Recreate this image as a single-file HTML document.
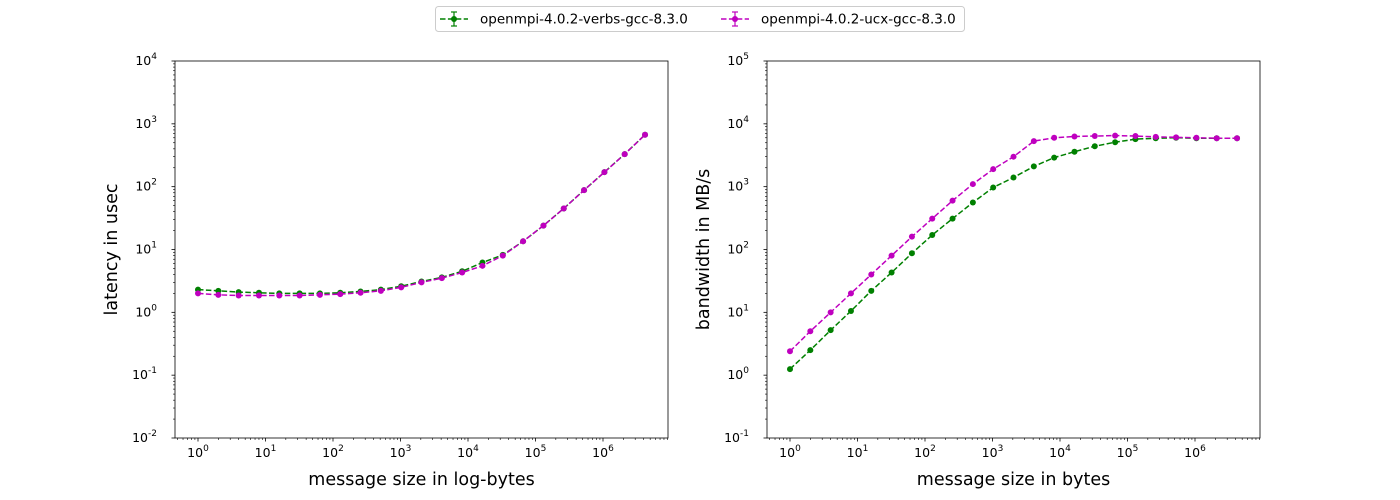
<!DOCTYPE html>
<html><head><meta charset="utf-8"><style>
body{margin:0;background:#fff;}
svg{display:block;font-family:"DejaVu Sans","Liberation Sans",sans-serif;}
</style></head><body>
<svg id="chart" width="1400" height="500" xmlns="http://www.w3.org/2000/svg"></svg>
<script>
const sizes = [1,2,4,8,16,32,64,128,256,512,1024,2048,4096,8192,16384,32768,65536,131072,262144,524288,1048576,2097152,4194304];
const latVerbs = [2.3,2.2,2.1,2.05,2.0,2.0,2.0,2.05,2.15,2.3,2.6,3.1,3.6,4.5,6.2,8.2,13.5,24,45,88,170,330,670];
const latUcx = [2.0,1.9,1.85,1.85,1.85,1.85,1.9,1.95,2.05,2.2,2.5,3.0,3.5,4.3,5.5,8,13.5,24,45,88,170,330,670];
const bwVerbs = [1.25,2.5,5.2,10.5,22,43,87,170,310,560,970,1400,2100,2900,3600,4400,5100,5700,5900,6000,5900,5900,5900];
const bwUcx = [2.4,5,10,20,40,80,160,310,600,1100,1900,3000,5300,6000,6300,6400,6500,6400,6200,6100,6000,5900,5900];
const legendLabels = ["openmpi-4.0.2-verbs-gcc-8.3.0","openmpi-4.0.2-ucx-gcc-8.3.0"];
const NS="http://www.w3.org/2000/svg";
const svg=document.getElementById('chart');
function mk(t,a,p){const e=document.createElementNS(NS,t);for(const k in a)e.setAttribute(k,a[k]);(p||svg).appendChild(e);return e;}
function panel(name,L,R,T,B,ymin,ymax,ylabel,xlabel,s1,s2){
  const g=mk('g',{});
  
  
  const x=v=>198+(L-175)+Math.log10(v)*67.5;
  const y=v=>B-(Math.log10(v)-ymin)/(ymax-ymin)*(B-T);
  for(let d=0;d<=6;d++){
    const px=x(Math.pow(10,d));
    mk('line',{x1:px,x2:px,y1:B,y2:B+3.5,stroke:'#000','stroke-width':0.8},g);
    const t=mk('text',{x:px,y:B+19,'text-anchor':'middle','font-size':12.5},g);
    
    t.innerHTML='10<tspan dy="-6" font-size="9">'+d+'</tspan>';
    for(let m=2;m<10;m++){
      const v=m*Math.pow(10,d-1); if(d===0)continue;
      const mx=x(v); mk('line',{x1:mx,x2:mx,y1:B,y2:B+2,stroke:'#000','stroke-width':0.6},g);
    }
  }
  for(let m=2;m<10;m++){const mx=x(m*1e6);if(mx<R)mk('line',{x1:mx,x2:mx,y1:B,y2:B+2,stroke:'#000','stroke-width':0.6},g);}
  for(let m=2;m<10;m++){const mx=x(m*0.1);if(mx>L)mk('line',{x1:mx,x2:mx,y1:B,y2:B+2,stroke:'#000','stroke-width':0.6},g);}
  for(let d=ymin;d<=ymax;d++){
    const py=y(Math.pow(10,d));
    mk('line',{x1:L-3.5,x2:L,y1:py,y2:py,stroke:'#000','stroke-width':0.8},g);
    const t=mk('text',{x:L-18,y:py+4,'text-anchor':'end','font-size':12.5},g);
    
    t.innerHTML='10<tspan dy="-6" font-size="9">'+d+'</tspan>';
    if(d<ymax)for(let m=2;m<10;m++){const my=y(m*Math.pow(10,d));mk('line',{x1:L-2,x2:L,y1:my,y2:my,stroke:'#000','stroke-width':0.6},g);}
  }
  const series=[[s1,'#008000'],[s2,'#bf00bf']];
  series.forEach(([vals,c],i)=>{
    const pts=sizes.map((s,j)=>x(s)+','+y(vals[j])).join(' ');
    const pl=mk('polyline',{points:pts,fill:'none',stroke:c,'stroke-width':1.5,'stroke-dasharray':'5.5,2.4'},g);
    
    sizes.forEach((s,j)=>{const cc=mk('circle',{cx:x(s),cy:y(vals[j]),r:3,fill:c},g);
      });
  });
  mk('rect',{x:L,y:T,width:R-L,height:B-T,fill:'none',stroke:'#000','stroke-width':0.8},g);
  const xl=mk('text',{x:(L+R)/2,y:485,'text-anchor':'middle','font-size':17.5},g);xl.textContent=xlabel;
  
  const yl=mk('text',{x:0,y:0,'text-anchor':'middle','font-size':17.5,transform:`translate(${L-58},${(T+B)/2}) rotate(-90)`},g);yl.textContent=ylabel;
  
}
panel('latency-panel',175,668,61,438,-2,4,'latency in usec','message size in log-bytes',latVerbs,latUcx);
panel('bandwidth-panel',767,1260,61,438,-1,5,'bandwidth in MB/s','message size in bytes',bwVerbs,bwUcx);
const lg=mk('g',{});


mk('rect',{x:435.5,y:6.5,width:529,height:25,rx:3,fill:'#fff',stroke:'#ccc'},lg);
[[440,'#008000'],[721,'#bf00bf']].forEach(([lx,c],i)=>{
  const e=mk('g',{},lg);
  
  
  mk('line',{x1:lx,x2:lx+28,y1:19,y2:19,stroke:c,'stroke-width':1.5,'stroke-dasharray':'5.5,2.4'},e);
  mk('line',{x1:lx+14,x2:lx+14,y1:12,y2:26,stroke:c,'stroke-width':1.2},e);
  mk('line',{x1:lx+11,x2:lx+17,y1:12,y2:12,stroke:c,'stroke-width':1.2},e);
  mk('line',{x1:lx+11,x2:lx+17,y1:26,y2:26,stroke:c,'stroke-width':1.2},e);
  mk('circle',{cx:lx+14,cy:19,r:3,fill:c},e);
  const t=mk('text',{x:lx+40,y:23.5,'font-size':13.5},e);t.textContent=legendLabels[i];
});
</script>
</body></html>
